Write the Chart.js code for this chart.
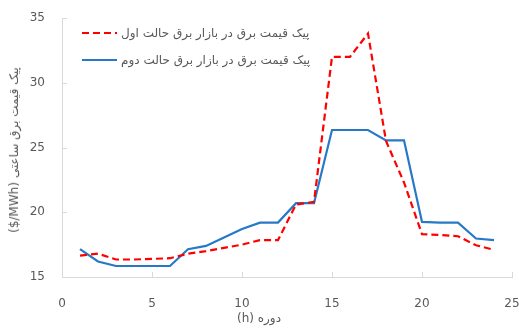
<!DOCTYPE html>
<html>
<head>
<meta charset="utf-8">
<script src="https://cdn.jsdelivr.net/npm/chart.js@4"></script>
<style>
  body { margin: 0; background: #fff; }
  #wrap { position: relative; width: 519px; height: 329px; font-family: "DejaVu Sans", "Noto Sans", sans-serif; color: #595959; }
  #legend { position: absolute; left: 82px; top: 19px; font-size: 12px; }
  .row { display: flex; align-items: center; height: 27px; }
  .row svg { margin-right: 4px; }
  #ytitle { position: absolute; left: 14px; top: 150px; transform: translate(-50%, -50%) rotate(-90deg); white-space: nowrap; font-size: 12px; }
  #xtitle { position: absolute; left: 259px; top: 318px; transform: translate(-50%, -50%); white-space: nowrap; font-size: 12px; }
  .ltr { unicode-bidi: isolate; direction: ltr; }
</style>
</head>
<body>
<div id="wrap">
  <canvas id="chart" width="519" height="329"></canvas>
  <div id="legend"></div>
  <div id="ytitle" dir="rtl">پیک قیمت برق ساعتی (<span class="ltr">$/MWh</span>)</div>
  <div id="xtitle" dir="rtl">دوره (h)</div>
</div>
<script>
var hours = [1,2,3,4,5,6,7,8,9,10,11,12,13,14,15,16,17,18,19,20,21,22,23,24];
var seriesNames = ["پیک قیمت برق در بازار برق حالت اول", "پیک قیمت برق در بازار برق حالت دوم"];
var peakCase1 = [16.65,16.8,16.35,16.35,16.4,16.45,16.8,17.0,17.25,17.5,17.85,17.85,20.6,20.8,32.0,32.0,33.8,25.5,22.3,18.3,18.25,18.15,17.45,17.1];
var peakCase2 = [17.15,16.2,15.85,15.85,15.85,15.85,17.15,17.4,18.05,18.7,19.2,19.2,20.7,20.7,26.35,26.35,26.35,25.55,25.55,19.25,19.2,19.2,17.97,17.85];
var xTicks = [0,5,10,15,20,25];
var yTicks = [15,20,25,30,35];

var colors = ['#ff0000', '#2878c8'];
var dashes = [[7,4], []];

function toPoints(vals) {
    return hours.map(function (h, i) { return {x: h, y: vals[i]}; });
}

// small inner tick marks like the original
var innerTicks = {
    id: 'innerTicks',
    afterDraw: function (chart) {
        var ctx = chart.ctx, a = chart.chartArea;
        var xs = chart.scales.x, ys = chart.scales.y;
        ctx.save();
        ctx.strokeStyle = '#d9d9d9';
        ctx.lineWidth = 1;
        ctx.beginPath();
        xTicks.forEach(function (v) {
            var px = Math.round(xs.getPixelForValue(v)) + 0.5;
            ctx.moveTo(px, a.bottom); ctx.lineTo(px, a.bottom - 5);
        });
        yTicks.forEach(function (v) {
            var py = Math.round(ys.getPixelForValue(v)) + 0.5;
            ctx.moveTo(a.left, py); ctx.lineTo(a.left + 5, py);
        });
        ctx.stroke();
        ctx.restore();
    }
};

var chart = new Chart(document.getElementById('chart'), {
    type: 'line',
    data: {
        datasets: [{
            label: seriesNames[0],
            data: toPoints(peakCase1),
            borderColor: colors[0],
            borderDash: dashes[0],
            borderWidth: 2.2,
            pointRadius: 0,
            tension: 0
        }, {
            label: seriesNames[1],
            data: toPoints(peakCase2),
            borderColor: colors[1],
            borderWidth: 2.2,
            pointRadius: 0,
            tension: 0
        }]
    },
    options: {
        responsive: false,
        animation: false,
        layout: { padding: { top: 18, right: 7, left: 0, bottom: 0 } },
        plugins: { legend: { display: false }, tooltip: { enabled: false } },
        scales: {
            x: {
                type: 'linear', min: 0, max: 25,
                afterBuildTicks: function (s) { s.ticks = xTicks.map(function (v) { return {value: v}; }); },
                afterFit: function (s) { s.height = 52; s.paddingLeft = 0; s.paddingRight = 0; },
                grid: { display: false },
                border: { color: '#d9d9d9', width: 1 },
                ticks: { color: '#595959', font: { family: 'DejaVu Sans', size: 12 }, padding: 12, maxRotation: 0 }
            },
            y: {
                min: 15, max: 35,
                afterBuildTicks: function (s) { s.ticks = yTicks.map(function (v) { return {value: v}; }); },
                afterFit: function (s) { s.width = 62; s.paddingTop = 0; s.paddingBottom = 0; },
                grid: { display: false },
                border: { color: '#d9d9d9', width: 1 },
                ticks: { color: '#595959', font: { family: 'DejaVu Sans', size: 12 }, padding: 9 }
            }
        }
    },
    plugins: [innerTicks]
});

// legend in the plot corner
var legend = document.getElementById('legend');
seriesNames.forEach(function (name, i) {
    var row = document.createElement('div');
    row.className = 'row';
    row.innerHTML = '<svg width="35" height="4"><line x1="0" y1="2" x2="35" y2="2" stroke="' + colors[i] +
        '" stroke-width="2.2" stroke-dasharray="' + (dashes[i].length ? dashes[i].join(',') : 'none') + '"/></svg>' +
        '<span dir="rtl"></span>';
    row.querySelector('span').textContent = name;
    legend.appendChild(row);
});
</script>
</body>
</html>
